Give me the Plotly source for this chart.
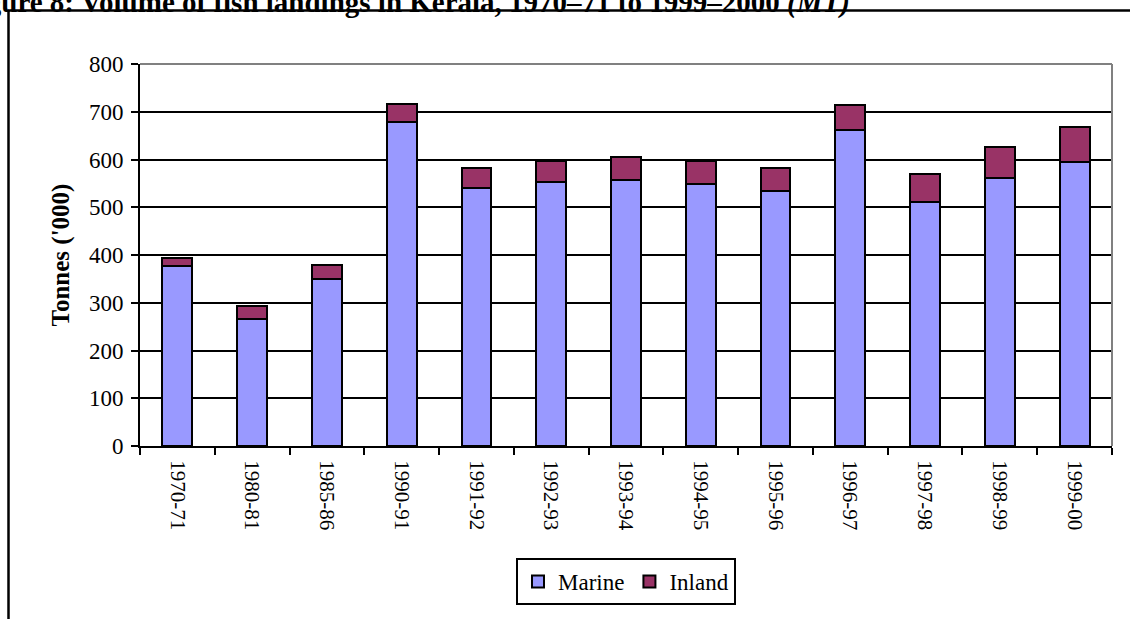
import plotly.graph_objects as go

years = ["1970-71", "1980-81", "1985-86", "1990-91", "1991-92", "1992-93", "1993-94",
         "1994-95", "1995-96", "1996-97", "1997-98", "1998-99", "1999-00"]
marine = [378, 267, 350, 678, 540, 553, 558, 548, 533, 662, 510, 561, 594]
inland = [16, 27, 30, 38, 42, 44, 48, 49, 50, 52, 60, 66, 74]

W, H = 1130, 619
L, R, T, B = 140, 18, 64, 173
PW, PH = W - L - R, H - T - B


def px(x):
    return (x - L) / PW


def py(y):
    return (H - B - y) / PH


serif = "Liberation Serif, Times New Roman, serif"

fig = go.Figure()
fig.add_trace(go.Bar(x=years, y=marine, name="Marine",
                     marker=dict(color="#9999FF", line=dict(color="black", width=2))))
fig.add_trace(go.Bar(x=years, y=inland, name="Inland",
                     marker=dict(color="#993366", line=dict(color="black", width=2))))

shapes = [
    # plot area border (grey top / right)
    dict(type="line", xref="paper", yref="paper", x0=0, x1=1, y0=1, y1=1,
         line=dict(color="#808080", width=2), layer="above"),
    dict(type="line", xref="paper", yref="paper", x0=1, x1=1, y0=0, y1=1,
         line=dict(color="#808080", width=2), layer="above"),
    # outer chart frame, partly off the page
    dict(type="line", xref="paper", yref="paper", x0=px(8), x1=px(1140), y0=py(10.5), y1=py(10.5),
         line=dict(color="black", width=2.5)),
    dict(type="line", xref="paper", yref="paper", x0=px(8.5), x1=px(8.5), y0=py(10), y1=py(630),
         line=dict(color="black", width=2.5)),
]

# page caption above the chart frame, cut by the top edge as in the source
fig.add_annotation(
    text="<b>Figure 8: Volume of fish landings in Kerala, 1970–71 to 1999–2000 <i>(MT)</i></b>",
    xref="paper", yref="paper", x=px(-41), y=py(21), xanchor="left", yanchor="bottom",
    showarrow=False, font=dict(family=serif, size=29, color="black"),
)

fig.update_layout(
    width=W, height=H,
    margin=dict(l=L, r=R, t=T, b=B),
    barmode="stack", bargap=0.6,
    plot_bgcolor="white", paper_bgcolor="white",
    font=dict(family=serif, size=22, color="black"),
    shapes=shapes,
    showlegend=True,
    legend=dict(orientation="h", x=0.5, xanchor="center", y=py(558), yanchor="top",
                bordercolor="black", borderwidth=2, font=dict(size=23),
                traceorder="normal", itemwidth=30),
    xaxis=dict(showline=True, linecolor="black", linewidth=2, ticks="outside",
               tickson="boundaries", ticklen=7, tickwidth=2, tickcolor="black",
               tickangle=90, showgrid=False, tickfont=dict(size=21), ticklabelstandoff=8),
    yaxis=dict(title=dict(text="<b>Tonnes ('000)</b>", font=dict(size=25), standoff=12),
               range=[0, 800], dtick=100, showline=True, linecolor="black", linewidth=2,
               ticks="outside", ticklen=7, tickwidth=2, tickcolor="black",
               tickfont=dict(size=23), ticklabelstandoff=3,
               showgrid=True, gridcolor="black", gridwidth=2, zeroline=False),
)

fig.write_html("out.html", config={"displayModeBar": False},
               post_script="document.body.style.margin='0';")
